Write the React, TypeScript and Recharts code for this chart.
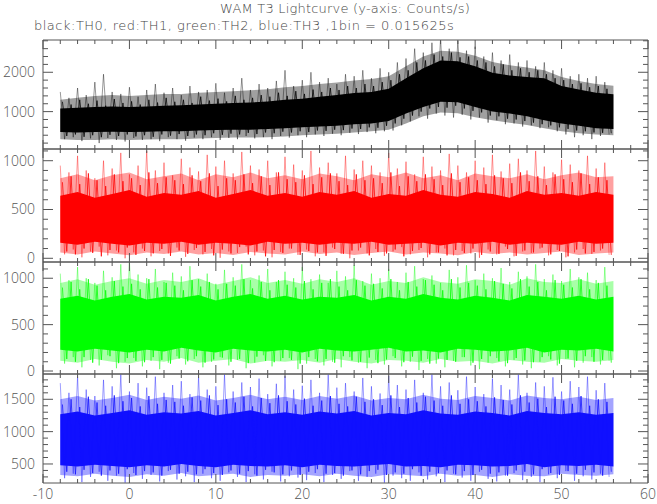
import { ComposedChart, Area, Line, XAxis, YAxis, ReferenceLine } from 'recharts';

// sample times (s) for the envelope bands and for the two spike zigzags
const bandTimes = [-8, -6, -4, -2, 0, 2, 4, 6, 8, 10, 12, 14, 16, 18, 20, 22, 24, 26, 28, 30, 32, 34, 36, 38, 40, 42, 44, 46, 48, 50, 52, 54, 56];
const peakTimes = [-8, -7, -6, -5, -4, -3, -2, -1, 0, 1, 2, 3, 4, 5, 6, 7, 8, 9, 10, 11, 12, 13, 14, 15, 16, 17, 18, 19, 20, 21, 22, 23, 24, 25, 26, 27, 28, 29, 30, 31, 32, 33, 34, 35, 36, 37, 38, 39, 40, 41, 42, 43, 44, 45, 46, 47, 48, 49, 50, 51, 52, 53, 54, 55];
const dipTimes = [-7.5, -6.5, -5.5, -4.5, -3.5, -2.5, -1.5, -0.5, 0.5, 1.5, 2.5, 3.5, 4.5, 5.5, 6.5, 7.5, 8.5, 9.5, 10.5, 11.5, 12.5, 13.5, 14.5, 15.5, 16.5, 17.5, 18.5, 19.5, 20.5, 21.5, 22.5, 23.5, 24.5, 25.5, 26.5, 27.5, 28.5, 29.5, 30.5, 31.5, 32.5, 33.5, 34.5, 35.5, 36.5, 37.5, 38.5, 39.5, 40.5, 41.5, 42.5, 43.5, 44.5, 45.5, 46.5, 47.5, 48.5, 49.5, 50.5, 51.5, 52.5, 53.5, 54.5, 55.5];
const peak2Times = [-7.75, -6.75, -5.75, -4.75, -3.75, -2.75, -1.75, -0.75, 0.25, 1.25, 2.25, 3.25, 4.25, 5.25, 6.25, 7.25, 8.25, 9.25, 10.25, 11.25, 12.25, 13.25, 14.25, 15.25, 16.25, 17.25, 18.25, 19.25, 20.25, 21.25, 22.25, 23.25, 24.25, 25.25, 26.25, 27.25, 28.25, 29.25, 30.25, 31.25, 32.25, 33.25, 34.25, 35.25, 36.25, 37.25, 38.25, 39.25, 40.25, 41.25, 42.25, 43.25, 44.25, 45.25, 46.25, 47.25, 48.25, 49.25, 50.25, 51.25, 52.25, 53.25, 54.25, 55.25];
const dip2Times = [-7.25, -6.25, -5.25, -4.25, -3.25, -2.25, -1.25, -0.25, 0.75, 1.75, 2.75, 3.75, 4.75, 5.75, 6.75, 7.75, 8.75, 9.75, 10.75, 11.75, 12.75, 13.75, 14.75, 15.75, 16.75, 17.75, 18.75, 19.75, 20.75, 21.75, 22.75, 23.75, 24.75, 25.75, 26.75, 27.75, 28.75, 29.75, 30.75, 31.75, 32.75, 33.75, 34.75, 35.75, 36.75, 37.75, 38.75, 39.75, 40.75, 41.75, 42.75, 43.75, 44.75, 45.75, 46.75, 47.75, 48.75, 49.75, 50.75, 51.75, 52.75, 53.75, 54.75, 55.75];

// TH0 (black)
const th0CoreLo = [480, 470, 480, 490, 480, 490, 500, 500, 520, 530, 540, 540, 560, 580, 600, 620, 640, 680, 700, 760, 950, 1120, 1250, 1240, 1120, 1000, 950, 880, 780, 700, 640, 580, 560];
const th0CoreHi = [1080, 1100, 1120, 1130, 1120, 1130, 1150, 1160, 1180, 1200, 1220, 1230, 1260, 1300, 1330, 1380, 1420, 1470, 1500, 1580, 1850, 2100, 2300, 2280, 2150, 1990, 1920, 1880, 1850, 1650, 1560, 1480, 1440];
const th0OuterLo = [300, 280, 280, 300, 280, 290, 300, 300, 320, 330, 340, 340, 350, 370, 400, 420, 440, 470, 500, 540, 700, 880, 980, 960, 860, 780, 720, 660, 580, 500, 450, 420, 400];
const th0OuterHi = [1300, 1350, 1400, 1420, 1400, 1420, 1450, 1450, 1480, 1500, 1520, 1540, 1570, 1620, 1650, 1700, 1740, 1790, 1830, 1900, 2150, 2400, 2550, 2520, 2420, 2260, 2180, 2120, 2050, 1880, 1780, 1700, 1660];
const th0Peaks = [1500, 1350, 1600, 1420, 1750, 1950, 1500, 1450, 1620, 1380, 1550, 1700, 1480, 1600, 1420, 1650, 1500, 1550, 1720, 1480, 1600, 1850, 1550, 1700, 1600, 1780, 2050, 1650, 1800, 2000, 1750, 1850, 1700, 1950, 1900, 2050, 1850, 2100, 2000, 2250, 2350, 2600, 2500, 2750, 2850, 2600, 2800, 2550, 2650, 2400, 2500, 2300, 2450, 2250, 2300, 2150, 2250, 2050, 2100, 1900, 1950, 1850, 1900, 1750];
const th0Dips = [300, 350, 250, 320, 200, 330, 280, 240, 330, 280, 300, 250, 350, 300, 260, 340, 300, 350, 280, 330, 300, 380, 320, 350, 300, 380, 340, 400, 350, 420, 380, 440, 400, 460, 430, 480, 450, 500, 520, 650, 750, 880, 820, 950, 900, 850, 920, 800, 850, 720, 780, 680, 700, 620, 650, 580, 600, 500, 420, 350, 400, 300, 380, 420];
const th0Peaks2 = [1250, 1180, 1300, 1200, 1280, 1150, 1320, 1220, 1260, 1180, 1300, 1230, 1350, 1250, 1300, 1220, 1380, 1280, 1330, 1260, 1400, 1300, 1350, 1420, 1380, 1480, 1400, 1520, 1450, 1560, 1500, 1600, 1550, 1650, 1600, 1700, 1650, 1750, 1800, 1950, 2050, 2250, 2300, 2450, 2400, 2500, 2380, 2400, 2300, 2250, 2150, 2200, 2050, 2100, 2000, 2050, 1950, 1850, 1800, 1700, 1720, 1620, 1650, 1580];
const th0Dips2 = [380, 420, 360, 400, 350, 410, 380, 420, 370, 400, 360, 420, 390, 430, 380, 420, 400, 450, 410, 440, 420, 460, 430, 470, 450, 490, 470, 500, 480, 520, 510, 540, 530, 570, 560, 600, 590, 640, 700, 820, 900, 1000, 1080, 1120, 1100, 1150, 1080, 1020, 980, 900, 880, 820, 800, 760, 720, 680, 650, 600, 560, 520, 500, 470, 460, 450];

// TH1 (red)
const th1CoreLo = [160, 140, 170, 150, 130, 160, 150, 170, 140, 160, 150, 130, 170, 150, 160, 140, 160, 150, 170, 140, 150, 160, 130, 160, 150, 170, 140, 160, 150, 140, 170, 150, 160];
const th1CoreHi = [640, 680, 620, 660, 700, 630, 670, 650, 690, 620, 660, 700, 640, 670, 630, 680, 650, 690, 620, 660, 640, 700, 650, 630, 680, 660, 620, 690, 650, 670, 640, 680, 650];
const th1OuterLo = [60, 40, 70, 50, 30, 60, 45, 70, 40, 55, 35, 65, 50, 40, 70, 45, 60, 35, 55, 70, 40, 60, 50, 30, 65, 45, 60, 40, 55, 70, 35, 50, 60];
const th1OuterHi = [820, 860, 800, 850, 880, 810, 840, 870, 800, 860, 830, 880, 820, 850, 810, 870, 840, 800, 860, 830, 880, 820, 850, 800, 870, 840, 820, 860, 810, 850, 880, 830, 840];
const th1Peaks = [950, 880, 1050, 900, 820, 1000, 920, 1080, 860, 950, 1100, 900, 980, 850, 1020, 930, 890, 1060, 940, 1000, 870, 1090, 950, 910, 1000, 880, 1040, 960, 900, 1100, 930, 980, 870, 1050, 910, 1000, 950, 880, 1080, 920, 990, 860, 1040, 940, 900, 1070, 950, 880, 1000, 930, 1060, 890, 970, 1020, 900, 1100, 940, 880, 1010, 960, 900, 1050, 920, 980];
const th1Dips = [40, 90, 10, 70, 120, 30, 80, 0, 60, 100, 20, 75, 50, 110, 15, 85, 40, 95, 5, 70, 55, 120, 30, 80, 10, 65, 100, 35, 90, 20, 60, 110, 45, 0, 80, 50, 95, 25, 70, 115, 40, 85, 10, 60, 100, 30, 75, 50, 5, 90, 40, 120, 20, 70, 55, 100, 30, 85, 10, 60, 95, 45, 80, 35];
const th1Peaks2 = [780, 840, 760, 870, 800, 740, 860, 790, 820, 750, 880, 770, 830, 800, 760, 850, 790, 870, 740, 820, 800, 860, 770, 840, 750, 880, 810, 780, 850, 760, 830, 870, 790, 750, 860, 800, 820, 770, 880, 740, 840, 790, 860, 810, 750, 870, 780, 830, 800, 760, 850, 820, 770, 880, 790, 840, 750, 860, 810, 780, 870, 760, 830, 800];
const th1Dips2 = [70, 40, 100, 55, 20, 85, 60, 110, 35, 75, 50, 95, 25, 80, 45, 105, 65, 30, 90, 50, 115, 40, 70, 20, 85, 55, 100, 35, 75, 60, 25, 95, 45, 80, 110, 30, 65, 50, 90, 20, 75, 105, 40, 60, 30, 85, 55, 100, 35, 70, 45, 95, 25, 80, 60, 110, 40, 75, 20, 90, 50, 65, 100, 35];

// TH2 (green)
const th2CoreLo = [230, 210, 240, 220, 200, 230, 210, 250, 220, 200, 240, 220, 210, 230, 200, 240, 220, 210, 230, 250, 210, 220, 200, 240, 230, 210, 220, 250, 200, 230, 220, 240, 210];
const th2CoreHi = [780, 810, 760, 800, 830, 770, 800, 790, 820, 760, 800, 830, 780, 810, 770, 800, 790, 820, 760, 800, 780, 830, 790, 770, 810, 790, 760, 820, 800, 780, 810, 770, 800];
const th2OuterLo = [110, 90, 130, 100, 80, 120, 100, 140, 90, 110, 130, 80, 110, 100, 120, 90, 130, 100, 80, 120, 110, 90, 130, 100, 110, 80, 120, 100, 90, 130, 110, 100, 120];
const th2OuterHi = [950, 990, 930, 970, 1000, 940, 980, 960, 1000, 930, 970, 1010, 950, 980, 940, 990, 960, 1000, 930, 970, 950, 1010, 960, 940, 990, 970, 930, 1000, 960, 950, 990, 940, 970];
const th2Peaks = [1050, 980, 1120, 1000, 950, 1080, 1010, 1150, 1180, 1040, 1000, 1100, 960, 1060, 1020, 1130, 990, 1050, 940, 1090, 1010, 1150, 980, 1030, 1100, 960, 1070, 1000, 1120, 990, 1040, 950, 1080, 1020, 1140, 970, 1050, 1000, 1100, 960, 1060, 1130, 990, 1030, 950, 1090, 1010, 1140, 980, 1050, 1000, 1110, 960, 1070, 1020, 1150, 990, 1040, 970, 1100, 1010, 1060, 980, 1120];
const th2Dips = [80, 150, 40, 120, 60, 170, 30, 100, 140, 50, 110, 20, 90, 160, 70, 130, 40, 100, 150, 60, 120, 30, 90, 170, 50, 110, 140, 20, 80, 130, 60, 100, 40, 150, 90, 30, 120, 70, 160, 50, 100, 10, 130, 80, 40, 110, 150, 60, 20, 90, 140, 50, 120, 70, 30, 100, 160, 60, 130, 40, 90, 150, 70, 110];
const th2Peaks2 = [900, 960, 880, 990, 920, 870, 970, 910, 940, 880, 990, 900, 950, 920, 870, 980, 910, 960, 880, 940, 920, 990, 890, 960, 870, 980, 930, 900, 970, 880, 950, 990, 910, 870, 980, 920, 940, 890, 990, 870, 960, 910, 980, 930, 870, 990, 900, 950, 920, 880, 970, 940, 890, 990, 910, 960, 870, 980, 930, 900, 990, 880, 950, 920];
const th2Dips2 = [130, 100, 150, 90, 120, 160, 85, 140, 110, 95, 150, 120, 80, 135, 105, 160, 90, 125, 145, 100, 130, 85, 155, 110, 95, 140, 120, 80, 150, 105, 130, 90, 160, 115, 100, 145, 85, 125, 140, 95, 155, 110, 80, 135, 120, 100, 150, 90, 130, 160, 105, 85, 140, 115, 95, 150, 125, 80, 135, 110, 160, 100, 120, 90];

// TH3 (blue)
const th3CoreLo = [480, 460, 490, 470, 450, 480, 460, 500, 470, 450, 490, 470, 460, 480, 450, 490, 470, 460, 480, 500, 460, 470, 450, 490, 480, 460, 470, 500, 450, 480, 470, 490, 460];
const th3CoreHi = [1270, 1310, 1250, 1290, 1330, 1260, 1300, 1280, 1320, 1250, 1290, 1330, 1270, 1300, 1260, 1310, 1280, 1320, 1250, 1290, 1270, 1330, 1280, 1260, 1310, 1290, 1250, 1320, 1290, 1270, 1300, 1260, 1290];
const th3OuterLo = [330, 310, 350, 320, 300, 340, 320, 360, 310, 330, 350, 300, 330, 320, 340, 310, 350, 320, 300, 340, 330, 310, 350, 320, 330, 300, 340, 320, 310, 350, 330, 320, 340];
const th3OuterHi = [1500, 1550, 1480, 1520, 1570, 1490, 1540, 1510, 1560, 1480, 1520, 1570, 1500, 1540, 1490, 1550, 1510, 1560, 1480, 1520, 1500, 1570, 1510, 1490, 1550, 1520, 1480, 1560, 1520, 1500, 1540, 1490, 1520];
const th3Peaks = [1750, 1600, 1850, 1650, 1550, 1800, 1700, 1880, 1620, 1750, 1680, 1850, 1600, 1720, 1780, 1580, 1850, 1650, 1700, 1880, 1620, 1760, 1690, 1820, 1580, 1740, 1860, 1650, 1710, 1800, 1600, 1880, 1680, 1750, 1620, 1830, 1700, 1590, 1860, 1720, 1650, 1800, 1600, 1880, 1700, 1760, 1640, 1850, 1690, 1580, 1820, 1720, 1650, 1880, 1600, 1760, 1700, 1840, 1620, 1780, 1690, 1850, 1640, 1750];
const th3Dips = [280, 350, 220, 300, 380, 240, 320, 210, 360, 270, 330, 230, 390, 260, 310, 220, 350, 280, 240, 370, 300, 220, 340, 260, 380, 230, 310, 290, 250, 360, 220, 330, 270, 390, 240, 300, 350, 210, 320, 280, 240, 370, 260, 310, 220, 350, 290, 240, 380, 270, 230, 320, 360, 250, 300, 220, 340, 280, 390, 240, 310, 260, 350, 300];
const th3Peaks2 = [1420, 1500, 1380, 1540, 1450, 1400, 1560, 1470, 1520, 1390, 1550, 1430, 1490, 1460, 1400, 1530, 1480, 1560, 1410, 1500, 1450, 1540, 1390, 1520, 1440, 1560, 1470, 1420, 1510, 1400, 1480, 1550, 1430, 1390, 1540, 1460, 1500, 1410, 1560, 1380, 1520, 1450, 1540, 1480, 1400, 1560, 1430, 1500, 1470, 1390, 1530, 1490, 1420, 1560, 1450, 1510, 1380, 1540, 1480, 1430, 1550, 1400, 1500, 1460];
const th3Dips2 = [380, 340, 410, 360, 320, 400, 350, 420, 330, 390, 370, 320, 410, 350, 380, 340, 420, 360, 330, 400, 350, 390, 320, 410, 370, 340, 400, 330, 380, 420, 350, 360, 320, 400, 340, 390, 410, 330, 370, 350, 420, 320, 380, 360, 400, 340, 390, 330, 410, 350, 370, 320, 400, 380, 340, 420, 360, 330, 390, 350, 410, 370, 320, 380];

// axis ticks
const xMajor = [-10, 0, 10, 20, 30, 40, 50, 60];
const xMinor = [-10, -8, -6, -4, -2, 0, 2, 4, 6, 8, 10, 12, 14, 16, 18, 20, 22, 24, 26, 28, 30, 32, 34, 36, 38, 40, 42, 44, 46, 48, 50, 52, 54, 56, 58, 60];
const th0Major = [1000, 2000];
const th0Minor = [200, 400, 600, 800, 1000, 1200, 1400, 1600, 1800, 2000, 2200, 2400, 2600, 2800];
const th1Major = [0, 500, 1000];
const th1Minor = [0, 100, 200, 300, 400, 500, 600, 700, 800, 900, 1000, 1100];
const th2Major = [0, 500, 1000];
const th2Minor = [0, 100, 200, 300, 400, 500, 600, 700, 800, 900, 1000, 1100];
const th3Major = [500, 1000, 1500];
const th3Minor = [300, 400, 500, 600, 700, 800, 900, 1000, 1100, 1200, 1300, 1400, 1500, 1600, 1700, 1800];

const AXIS = '#555';
const FONT = '"Open Sans", "DejaVu Sans", sans-serif';
const TITLE_FONT = '"DejaVu Sans", "Open Sans", sans-serif';
const X_DOMAIN = [-10, 60];
const PLOT_W = 605;

const panels = [
  { top: 40, height: 109, domain: [50, 2820], major: th0Major, minor: th0Minor, core: '#000000', outer: '#a0a0a0',
    coreLo: th0CoreLo, coreHi: th0CoreHi, outerLo: th0OuterLo, outerHi: th0OuterHi, peaks: th0Peaks, dips: th0Dips, peaks2: th0Peaks2, dips2: th0Dips2 },
  { top: 149, height: 113, domain: [-38, 1120], major: th1Major, minor: th1Minor, core: '#ff0000', outer: '#ffa0a0',
    coreLo: th1CoreLo, coreHi: th1CoreHi, outerLo: th1OuterLo, outerHi: th1OuterHi, peaks: th1Peaks, dips: th1Dips, peaks2: th1Peaks2, dips2: th1Dips2 },
  { top: 262, height: 112, domain: [-32, 1175], major: th2Major, minor: th2Minor, core: '#00ff00', outer: '#a8ffa8',
    coreLo: th2CoreLo, coreHi: th2CoreHi, outerLo: th2OuterLo, outerHi: th2OuterHi, peaks: th2Peaks, dips: th2Dips, peaks2: th2Peaks2, dips2: th2Dips2 },
  { top: 374, height: 109, domain: [206, 1891], major: th3Major, minor: th3Minor, core: '#1010ff', outer: '#a4a4ff',
    coreLo: th3CoreLo, coreHi: th3CoreHi, outerLo: th3OuterLo, outerHi: th3OuterHi, peaks: th3Peaks, dips: th3Dips, peaks2: th3Peaks2, dips2: th3Dips2 },
];

function zigzag(ta: number[], va: number[], tb: number[], vb: number[]) {
  const rows: { t: number; v: number }[] = [];
  ta.forEach((t, i) => {
    rows.push({ t, v: va[i] });
    rows.push({ t: tb[i], v: vb[i] });
  });
  return rows;
}

function Panel({ p, last }: { p: any; last: boolean }) {
  const bands = bandTimes.map((t, i) => ({
    t,
    outer: [p.outerLo[i], p.outerHi[i]],
    core: [p.coreLo[i], p.coreHi[i]],
  }));
  const spikes = zigzag(peakTimes, p.peaks, dipTimes, p.dips);
  const spikes2 = zigzag(peak2Times, p.peaks2, dip2Times, p.dips2);

  const [y0, y1] = p.domain;
  const yPerPx = (y1 - y0) / p.height;
  const xPerPx = (X_DOMAIN[1] - X_DOMAIN[0]) / PLOT_W;
  const bottomExtra = last ? 0 : 12;
  const axisH = last ? 22 : 1;
  const h = 1 + p.height + axisH + bottomExtra;
  const tickFont = { fill: AXIS, fontSize: 14, fontFamily: FONT, fontWeight: 300 };

  // inward tick marks on all four sides (long at labelled values)
  const tickLines: any[] = [];
  xMinor.forEach((v) => {
    const len = (xMajor.includes(v) ? 9 : 4) * yPerPx;
    tickLines.push([{ x: v, y: y0 }, { x: v, y: y0 + len }]);
    tickLines.push([{ x: v, y: y1 }, { x: v, y: y1 - len }]);
  });
  p.minor.forEach((v: number) => {
    const len = (p.major.includes(v) ? 10 : 5) * xPerPx;
    tickLines.push([{ x: X_DOMAIN[0], y: v }, { x: X_DOMAIN[0] + len, y: v }]);
    tickLines.push([{ x: X_DOMAIN[1], y: v }, { x: X_DOMAIN[1] - len, y: v }]);
  });

  return (
    <div style={{ position: 'absolute', left: 0, top: p.top - 1, width: 657, height: h }}>
      <ComposedChart width={657} height={h} margin={{ top: 0, right: 8, bottom: bottomExtra, left: 0 }}>
        <XAxis xAxisId="x" dataKey="t" type="number" domain={X_DOMAIN} allowDataOverflow ticks={xMajor} interval={0}
          orientation="bottom" height={axisH} tickLine={false} tickSize={0} tickMargin={6} stroke={AXIS}
          tick={last ? tickFont : false} />
        <XAxis xAxisId="xt" type="number" domain={X_DOMAIN} allowDataOverflow ticks={xMajor} interval={0}
          orientation="top" height={1} tickLine={false} tick={false} stroke={AXIS} />
        <YAxis yAxisId="y" type="number" domain={p.domain} allowDataOverflow ticks={p.major} interval={0}
          orientation="left" width={43} tickLine={false} tickSize={0} tickMargin={8} stroke={AXIS} tick={tickFont} />
        <YAxis yAxisId="yr" type="number" domain={p.domain} allowDataOverflow ticks={p.major} interval={0}
          orientation="right" width={1} tickLine={false} tick={false} stroke={AXIS} />

        <Area xAxisId="x" yAxisId="y" data={bands} dataKey="outer" type="linear" stroke="none"
          fill={p.outer} fillOpacity={1} dot={false} activeDot={false} isAnimationActive={false} />
        <Area xAxisId="x" yAxisId="y" data={bands} dataKey="core" type="linear" stroke="none"
          fill={p.core} fillOpacity={1} dot={false} activeDot={false} isAnimationActive={false} />
        <Line xAxisId="x" yAxisId="y" data={spikes} dataKey="v" type="linear" stroke={p.core}
          strokeOpacity={0.4} strokeWidth={1} dot={false} activeDot={false} isAnimationActive={false} />
        <Line xAxisId="x" yAxisId="y" data={spikes2} dataKey="v" type="linear" stroke={p.core}
          strokeOpacity={0.75} strokeWidth={1} dot={false} activeDot={false} isAnimationActive={false} />

        {tickLines.map((seg, i) => (
          <ReferenceLine key={i} xAxisId="x" yAxisId="y" segment={seg} stroke={AXIS} strokeWidth={1} ifOverflow="visible" />
        ))}
      </ComposedChart>
    </div>
  );
}

export default function App() {
  return (
    <div style={{ position: 'fixed', left: 0, top: 0, width: 657, height: 504, background: '#fff', fontFamily: FONT, color: '#444' }}>
      <div style={{ position: 'absolute', left: 0, top: 1, width: 690, textAlign: 'center', fontFamily: TITLE_FONT, fontSize: 13, fontWeight: 200, letterSpacing: 0.2 }}>
        WAM T3 Lightcurve (y-axis: Counts/s)
      </div>
      <div style={{ position: 'absolute', left: 34, top: 18, fontFamily: TITLE_FONT, fontSize: 13, fontWeight: 200, letterSpacing: 0.5, whiteSpace: 'nowrap' }}>
        black:TH0, red:TH1, green:TH2, blue:TH3 ,1bin = 0.015625s
      </div>
      {panels.map((p, i) => (
        <Panel key={i} p={p} last={i === panels.length - 1} />
      ))}
    </div>
  );
}
